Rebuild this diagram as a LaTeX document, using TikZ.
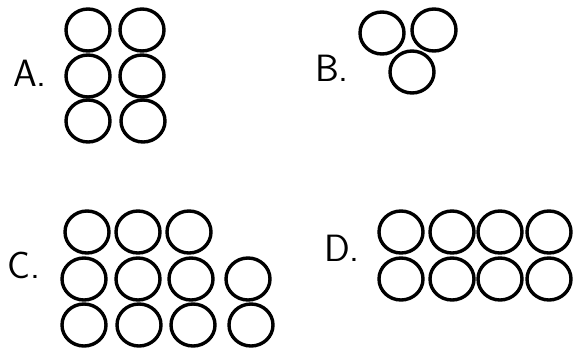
\documentclass[tikz,border=0pt]{standalone}
\usepackage{tikz}
\usetikzlibrary{shapes.geometric}

\begin{document}
\begin{tikzpicture}[
  x=1pt, y=-1pt,
  ring/.style={draw, ellipse, line width=3.4pt, minimum width=44pt, minimum height=42pt, inner sep=0pt},
  lbl/.style={font=\sffamily\fontsize{38}{38}\selectfont, inner sep=0pt}
  ]
  \useasboundingbox[fill=white] (0,0) rectangle (578,349);
  % A: two columns, three rows
  \begin{scope}
  \node[lbl] (labA) at (30,73) {A.};
  \node[ring] (A1) at (88,30) {};  \node[ring] (A2) at (142,30) {};
  \node[ring] (A3) at (88,76) {};  \node[ring] (A4) at (142,76) {};
  \node[ring] (A5) at (88,121) {}; \node[ring] (A6) at (143,121) {};
  \end{scope}
  % B: three
  \begin{scope}
  \node[lbl] (labB) at (332,68) {B.};
  \node[ring] (B1) at (382,33) {}; \node[ring] (B2) at (434,30) {};
  \node[ring] (B3) at (412,72) {};
  \end{scope}
  % C: 3 + 4 + 4
  \begin{scope}
  \node[lbl] (labC) at (24,265) {C.};
  \node[ring] (C1) at (87,232) {}; \node[ring] (C2) at (138,232) {}; \node[ring] (C3) at (189,232) {};
  \node[ring] (C4) at (84,279) {}; \node[ring] (C5) at (138,279) {}; \node[ring] (C6) at (191,279) {}; \node[ring] (C7) at (248,279) {};
  \node[ring] (C8) at (84,325) {}; \node[ring] (C9) at (139,325) {}; \node[ring] (C10) at (193,325) {}; \node[ring] (C11) at (251,325) {};
  \end{scope}
  % D: two rows of four
  \begin{scope}
  \node[lbl] (labD) at (342,248) {D.};
  \node[ring] (D1) at (401,232) {}; \node[ring] (D2) at (452,232) {}; \node[ring] (D3) at (500,232) {}; \node[ring] (D4) at (549,232) {};
  \node[ring] (D5) at (401,279) {}; \node[ring] (D6) at (452,279) {}; \node[ring] (D7) at (500,279) {}; \node[ring] (D8) at (549,279) {};
  \end{scope}
\end{tikzpicture}
\end{document}
